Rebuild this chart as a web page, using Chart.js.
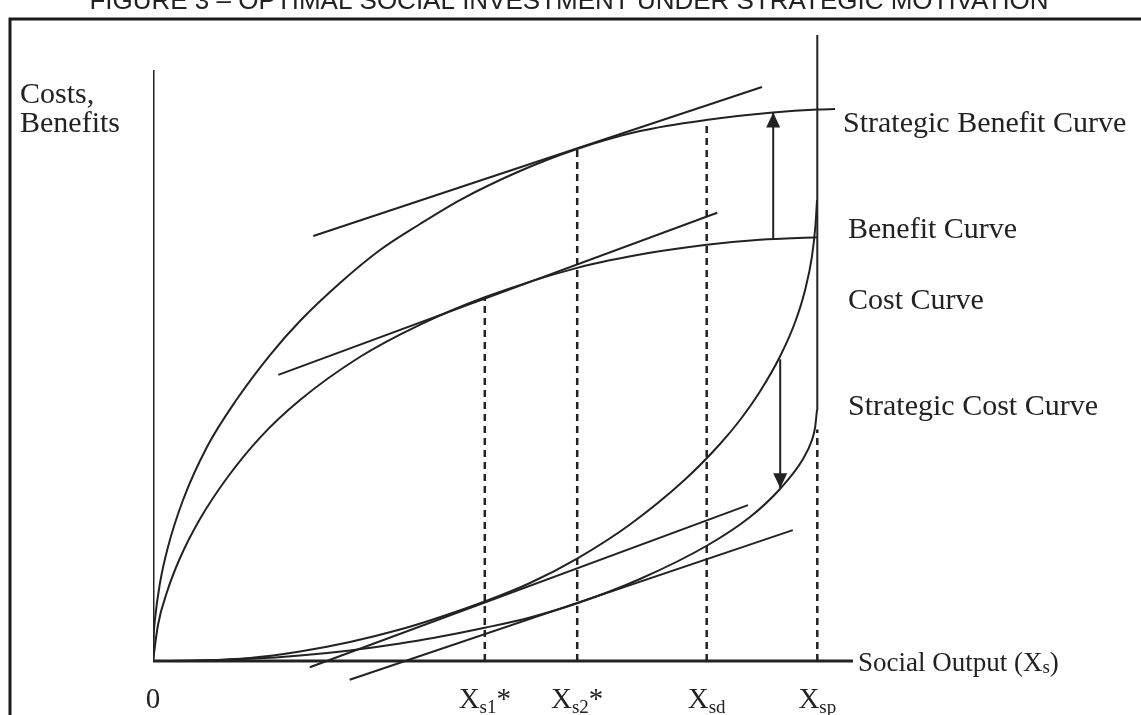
<!DOCTYPE html>
<html>
<head>
<meta charset="utf-8">
<script src="https://cdn.jsdelivr.net/npm/chart.js@4/dist/chart.umd.min.js"></script>
<style>
body{margin:0;background:#fff;}
canvas{display:block;}
</style>
</head>
<body>
<canvas id="chart" width="1141" height="715"></canvas>
<script>
// curves (x = social output, y = costs / benefits)
var strategicBenefit = [[0,0],[0.07,3.35],[0.29,6.71],[1.0,12.46],[2.14,18.21],[4.29,25.72],[7.71,34.19],[12.0,41.85],[16.71,48.88],[21.0,54.31],[26.71,60.38],[32.43,65.65],[38.14,69.81],[43.86,73.64],[52.43,78.27],[60.57,81.79],[69.57,84.66],[79.0,86.42],[88.57,87.62],[94.86,88.10],[97.43,88.18]];
var benefit = [[0,0],[0.71,5.75],[2.0,11.02],[3.86,16.45],[6.71,22.68],[10.57,29.23],[15.29,35.69],[21.0,41.69],[29.6,48.6],[38.1,53.7],[47.4,58.1],[60.6,62.8],[71.0,65.2],[79.1,66.5],[86.7,67.3],[94.9,67.7]];
var cost = [[0,0],[6.71,0.08],[13.86,0.48],[21.0,1.52],[28.14,3.04],[35.29,5.03],[40.0,6.63],[47.57,9.58],[53.86,12.46],[60.71,16.45],[68.14,21.81],[76.0,28.99],[81.0,34.66],[83.86,38.50],[86.71,43.05],[89.57,48.64],[91.71,54.07],[93.14,59.19],[94.14,64.62],[94.64,69.65],[94.86,73.64]];
var strategicCost = [[0,0],[6.71,0.06],[13.86,0.34],[21.0,0.88],[28.14,1.69],[35.29,2.80],[40.0,3.67],[47.57,5.35],[53.86,6.96],[60.71,9.27],[69.57,13.10],[79.29,18.53],[85.29,23.0],[89.57,27.48],[92.86,32.27],[94.14,35.30],[94.57,37.22],[94.86,40.10]];

// tangent lines
var tanStrategicBenefit = [[22.9,67.9],[87.0,91.7]];
var tanBenefit = [[17.9,45.7],[80.6,71.6]];
var tanCost = [[22.4,-1.0],[85.0,24.9]];
var tanStrategicCost = [[28.1,-3.0],[91.4,20.9]];

// output levels on the x axis
var tickValues = [47.4, 60.6, 79.1, 94.9];
var tickNames = [["X","s1","*"],["X","s2","*"],["X","sd",""],["X","sp",""]];
var tickTops = [58.1, 81.9, 85.9, 37.0];

// arrows: from -> to
var arrowUp = [[88.6,67.3],[88.6,87.6]];
var arrowDown = [[89.6,48.2],[89.6,27.6]];

var xAxisEnd = 100, yAxisTop = 94.4, spTop = 100, spSolidEnd = 40.1;

var ink = '#222';
function pts(a){ return a.map(function(p){ return {x:p[0], y:p[1]}; }); }
function curve(a){
  return {data: pts(a), showLine:true, borderColor:ink, borderWidth:2, pointRadius:0, cubicInterpolationMode:'monotone'};
}
function seg(a, w, dash){
  return {data: pts(a), showLine:true, borderColor:ink, borderWidth:w, pointRadius:0, tension:0, borderDash: dash || []};
}

var datasets = [
  seg([[0,0],[xAxisEnd,0]], 3),
  seg([[0,0],[0,yAxisTop]], 3),
  seg([[tickValues[3],spSolidEnd],[tickValues[3],spTop]], 2),
  curve(strategicBenefit),
  curve(benefit),
  curve(cost),
  curve(strategicCost),
  seg(tanStrategicBenefit, 2),
  seg(tanBenefit, 2),
  seg(tanCost, 2),
  seg(tanStrategicCost, 2)
];
tickValues.forEach(function(v, i){
  datasets.push(seg([[v,0],[v,tickTops[i]]], 2.5, [7,5]));
});
var up = seg(arrowUp, 2); up.arrow = true; datasets.push(up);
var down = seg(arrowDown, 2); down.arrow = true; datasets.push(down);

// arrow heads
var arrowHeads = {
  id: 'arrowHeads',
  afterDatasetsDraw: function(chart){
    var ctx = chart.ctx, xs = chart.scales.x, ys = chart.scales.y;
    chart.data.datasets.forEach(function(ds){
      if(!ds.arrow) return;
      var a = ds.data[0], b = ds.data[ds.data.length-1];
      var x1 = xs.getPixelForValue(a.x), y1 = ys.getPixelForValue(a.y);
      var x2 = xs.getPixelForValue(b.x), y2 = ys.getPixelForValue(b.y);
      var ang = Math.atan2(y2-y1, x2-x1), len = 15, half = 7;
      ctx.save();
      ctx.fillStyle = ink;
      ctx.beginPath();
      ctx.moveTo(x2, y2);
      ctx.lineTo(x2 - len*Math.cos(ang) + half*Math.sin(ang), y2 - len*Math.sin(ang) - half*Math.cos(ang));
      ctx.lineTo(x2 - len*Math.cos(ang) - half*Math.sin(ang), y2 - len*Math.sin(ang) + half*Math.cos(ang));
      ctx.closePath();
      ctx.fill();
      ctx.restore();
    });
  }
};

var serif = '"Liberation Serif", "Times New Roman", serif';
function subText(ctx, parts, x, y, size, subSize, drop, align){
  var big = size + 'px ' + serif, small = subSize + 'px ' + serif;
  ctx.font = big; var w1 = ctx.measureText(parts[0]).width;
  ctx.font = small; var w2 = ctx.measureText(parts[1]).width;
  ctx.font = big; var w3 = ctx.measureText(parts[2]).width;
  if(align === 'center') x = x - (w1+w2+w3)/2;
  ctx.textAlign = 'left';
  ctx.font = big; ctx.fillText(parts[0], x, y);
  ctx.font = small; ctx.fillText(parts[1], x+w1, y+drop);
  ctx.font = big; ctx.fillText(parts[2], x+w1+w2, y);
}

// frame, title and texts
var texts = {
  id: 'texts',
  afterDraw: function(chart){
    var ctx = chart.ctx, xs = chart.scales.x;
    ctx.save();
    ctx.strokeStyle = '#1a1a1a';
    ctx.lineWidth = 3;
    ctx.beginPath();
    ctx.moveTo(10, 715); ctx.lineTo(10, 19); ctx.lineTo(1141, 19);
    ctx.stroke();

    ctx.fillStyle = ink;
    ctx.textBaseline = 'alphabetic';
    ctx.textAlign = 'center';
    ctx.font = '26px "Liberation Sans", Arial, sans-serif';
    ctx.fillText('FIGURE 3 \u2013 OPTIMAL SOCIAL INVESTMENT UNDER STRATEGIC MOTIVATION', 569, 9);

    ctx.textAlign = 'left';
    ctx.font = '30px ' + serif;
    ctx.fillText('Costs,', 20, 103);
    ctx.fillText('Benefits', 20, 132);
    ctx.fillText('Strategic Benefit Curve', 843, 132);
    ctx.fillText('Benefit Curve', 848, 238);
    ctx.fillText('Cost Curve', 848, 309);
    ctx.fillText('Strategic Cost Curve', 848, 415);
    subText(ctx, ['Social Output (X','s',')'], 858, 671, 27, 19, 2, 'left');

    ctx.textAlign = 'center';
    ctx.font = '29px ' + serif;
    ctx.fillText('0', xs.getPixelForValue(0), 708);
    tickValues.forEach(function(v, i){
      subText(ctx, tickNames[i], xs.getPixelForValue(v), 708, 29, 19, 5, 'center');
    });
    ctx.restore();
  }
};

new Chart(document.getElementById('chart'), {
  type: 'scatter',
  data: { datasets: datasets },
  options: {
    responsive: false,
    animation: false,
    devicePixelRatio: 1,
    layout: { padding: { left:153, right:288, top:35, bottom:3.92 } },
    scales: {
      x: { type:'linear', min:0, max:100, display:false },
      y: { type:'linear', min:-8, max:100, display:false }
    },
    plugins: { legend:{display:false}, tooltip:{enabled:false} }
  },
  plugins: [arrowHeads, texts]
});
</script>
</body>
</html>
